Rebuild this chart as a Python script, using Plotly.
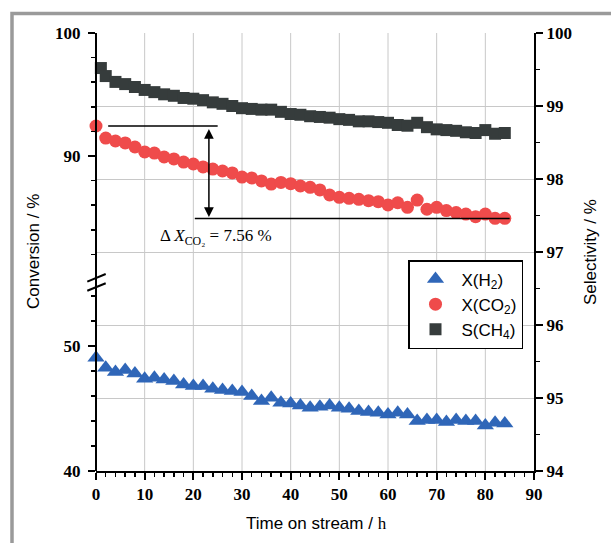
import plotly.graph_objects as go

# ---------------- data ----------------
time_h = [0, 2, 4, 6, 8, 10, 12, 14, 16, 18, 20, 22, 24, 26, 28, 30, 32, 34, 36, 38, 40,
          42, 44, 46, 48, 50, 52, 54, 56, 58, 60, 62, 64, 66, 68, 70, 72, 74, 76, 78, 80, 82, 84]

time_ch4 = [1, 2, 4, 6, 8, 10, 12, 14, 16, 18, 20, 22, 24, 26, 28, 30, 32, 34, 36, 38, 40,
            42, 44, 46, 48, 50, 52, 54, 56, 58, 60, 62, 64, 66, 68, 70, 72, 74, 76, 78, 80, 82, 84]

x_h2 = [49.07, 48.27, 47.92, 48.08, 47.81, 47.39, 47.47, 47.33, 47.20, 46.93, 46.80, 46.80,
        46.59, 46.48, 46.40, 46.32, 46.00, 45.60, 45.87, 45.47, 45.41, 45.25, 45.07, 45.15,
        45.25, 45.07, 44.99, 44.80, 44.72, 44.67, 44.53, 44.67, 44.53, 44.00, 44.08, 44.08,
        43.92, 44.08, 44.00, 44.00, 43.65, 43.87, 43.81]

x_co2 = [92.44, 91.46, 91.22, 91.06, 90.73, 90.33, 90.24, 89.92, 89.76, 89.51, 89.35, 89.11,
         88.94, 88.78, 88.62, 88.29, 88.21, 87.97, 87.72, 87.85, 87.75, 87.56, 87.45, 87.24,
         86.83, 86.64, 86.56, 86.48, 86.37, 86.29, 86.02, 86.20, 85.83, 86.42, 85.67, 85.83,
         85.56, 85.40, 85.28, 85.07, 85.28, 84.93, 84.93]

s_ch4 = [99.52, 99.41, 99.33, 99.30, 99.26, 99.22, 99.19, 99.16, 99.14, 99.11, 99.10, 99.08,
         99.05, 99.03, 99.00, 98.97, 98.96, 98.95, 98.95, 98.92, 98.89, 98.88, 98.86, 98.85,
         98.84, 98.82, 98.81, 98.79, 98.79, 98.78, 98.77, 98.74, 98.73, 98.77, 98.71, 98.68,
         98.67, 98.66, 98.64, 98.63, 98.67, 98.62, 98.63]

delta_start = 92.44   # X(CO2) at start
delta_end = 84.92     # X(CO2) at end
delta_label = "Δ <i>X</i><sub>CO₂</sub> = 7.56 %"

x_ticks = [0, 10, 20, 30, 40, 50, 60, 70, 80, 90]

# ---------------- layout helpers (pixel -> paper) ----------------
W, H = 611, 543
L, R, T, B = 96, 77, 33, 72
PW, PH = W - L - R, H - T - B


def px(xp):
    return (xp - L) / PW


def py(yp):
    return (H - B - yp) / PH


BLUE = "#2f66b8"
RED = "#ef4b4b"
DARK = "#363c3c"
SERIF = "Liberation Serif"
SANS = "Liberation Sans"
GRID = "#c8c8c8"

fig = go.Figure()
fig.add_trace(go.Scatter(x=time_h, y=x_h2, mode="markers", name="X(H<sub>2</sub>)",
                         marker=dict(symbol="triangle-up", size=15, color=BLUE),
                         xaxis="x", yaxis="y2", cliponaxis=False))
fig.add_trace(go.Scatter(x=time_h, y=x_co2, mode="markers", name="X(CO<sub>2</sub>)",
                         marker=dict(symbol="circle", size=13, color=RED),
                         xaxis="x", yaxis="y3", cliponaxis=False))
fig.add_trace(go.Scatter(x=time_ch4, y=s_ch4, mode="markers", name="S(CH<sub>4</sub>)",
                         marker=dict(symbol="square", size=12, color=DARK),
                         xaxis="x", yaxis="y", cliponaxis=False))

tickfont = dict(family=SERIF, size=17, color="black", weight="bold")
lower_top = py(471 - 12.5 * 14.3)
upper_bot = 1 - (12.3 * 19.5) / PH

common_minor = dict(ticks="outside", ticklen=4, tickwidth=1.5, tickcolor="black", showgrid=False)

fig.update_layout(
    width=W, height=H,
    margin=dict(l=L, r=R, t=T, b=B, autoexpand=False),
    paper_bgcolor="white", plot_bgcolor="rgba(0,0,0,0)",
    showlegend=True,
    legend=dict(x=px(408), y=py(260), xanchor="left", yanchor="top",
                bgcolor="white", bordercolor="black", borderwidth=1.5,
                font=dict(family=SANS, size=17, color="black"),
                itemwidth=42, tracegroupgap=0),
    xaxis=dict(domain=[0, 1], anchor="y", range=[0, 90], tickvals=x_ticks, automargin=False,
               ticks="outside", ticklen=7, tickwidth=2, tickcolor="black",
               minor=dict(dtick=2, **common_minor),
               showgrid=False, zeroline=False,
               showline=True, linewidth=2, linecolor="black",
               tickfont=tickfont),
    xaxis2=dict(overlaying="x", side="top", anchor="y", range=[0, 90], tickvals=x_ticks,
                automargin=False,
                showticklabels=False, ticks="outside", ticklen=7, tickwidth=2, tickcolor="black",
                minor=dict(dtick=2, **common_minor),
                showgrid=False, zeroline=False, showline=True, linewidth=2, linecolor="black"),
    yaxis=dict(domain=[0, 1], anchor="x", side="right", range=[94, 100], dtick=1,
               automargin=False,
               ticks="outside", ticklen=7, tickwidth=2, tickcolor="black",
               minor=dict(dtick=0.5, **common_minor),
               showgrid=True, gridcolor=GRID, gridwidth=1, zeroline=False,
               showline=True, linewidth=2, linecolor="black", tickfont=tickfont),
    yaxis2=dict(domain=[0, lower_top], anchor="x", side="left", range=[40, 54.3], dtick=10,
                automargin=False, ticklabelstandoff=4,
                ticks="outside", ticklen=7, tickwidth=2, tickcolor="black",
                minor=dict(dtick=2, **common_minor),
                showgrid=False, zeroline=False, showline=False, tickfont=tickfont),
    yaxis3=dict(domain=[upper_bot, 1], anchor="x", side="left", range=[80.5, 100], dtick=10,
                automargin=False, ticklabelstandoff=4,
                ticks="outside", ticklen=7, tickwidth=2, tickcolor="black",
                minor=dict(dtick=2, **common_minor),
                showgrid=False, zeroline=False, showline=False, tickfont=tickfont),
)

shapes = []
# outer gray frame
shapes.append(dict(type="rect", xref="paper", yref="paper",
                   x0=px(12), x1=px(640), y0=py(600), y1=py(13.5),
                   line=dict(color="#9a9a9a", width=3.5), fillcolor="rgba(0,0,0,0)", layer="below"))
# vertical grid lines at the major x ticks
for xv in x_ticks[1:-1]:
    shapes.append(dict(type="line", xref="x", yref="paper", x0=xv, x1=xv, y0=0, y1=1,
                       line=dict(color=GRID, width=1), layer="below"))
# left spine (continuous)
shapes.append(dict(type="line", xref="paper", yref="paper", x0=0, x1=0, y0=0, y1=1,
                   line=dict(color="black", width=2)))
# axis-break marks
for y_a, y_b in [(281.7, 274.0), (290.7, 283.3)]:
    shapes.append(dict(type="line", xref="paper", yref="paper",
                       x0=px(87.3), y0=py(y_a), x1=px(105.7), y1=py(y_b),
                       line=dict(color="black", width=2)))
# delta lines
shapes.append(dict(type="line", xref="x", yref="y3", x0=2.5, x1=25, y0=delta_start, y1=delta_start,
                   line=dict(color="black", width=1.5)))
shapes.append(dict(type="line", xref="x", yref="y3", x0=20.3, x1=85, y0=delta_end, y1=delta_end,
                   line=dict(color="black", width=1.5)))
fig.update_layout(shapes=shapes)

annotations = [
    dict(x=23.2, y=delta_end + 0.12, ax=23.2, ay=delta_start - 0.12, xref="x", yref="y3",
         axref="x", ayref="y3", showarrow=True, arrowhead=2, startarrowhead=2,
         arrowside="end+start", arrowwidth=1.5, arrowsize=1.3, startarrowsize=1.3,
         arrowcolor="black", text=""),
    dict(x=12.7, y=83.45, xref="x", yref="y3", xanchor="left", yanchor="middle",
         text=delta_label, showarrow=False, font=dict(family=SERIF, size=17, color="black")),
    dict(x=px(33), y=py(252), xref="paper", yref="paper", textangle=-90, showarrow=False,
         xanchor="center", yanchor="middle",
         text="Conversion / %", font=dict(family=SANS, size=17, color="black")),
    dict(x=px(590), y=py(252), xref="paper", yref="paper", textangle=-90, showarrow=False,
         xanchor="center", yanchor="middle",
         text="Selectivity / %", font=dict(family=SANS, size=17, color="black")),
    dict(x=px(316), y=py(523), xref="paper", yref="paper", showarrow=False,
         xanchor="center", yanchor="middle",
         text="Time on stream / <span style='font-family:Liberation Serif'>h</span>",
         font=dict(family=SANS, size=17, color="black")),
]
fig.update_layout(annotations=annotations)

fig.write_html("out.html", config={"displayModeBar": False, "staticPlot": True},
               post_script="document.body.style.margin='0px';document.body.style.overflow='hidden';")
